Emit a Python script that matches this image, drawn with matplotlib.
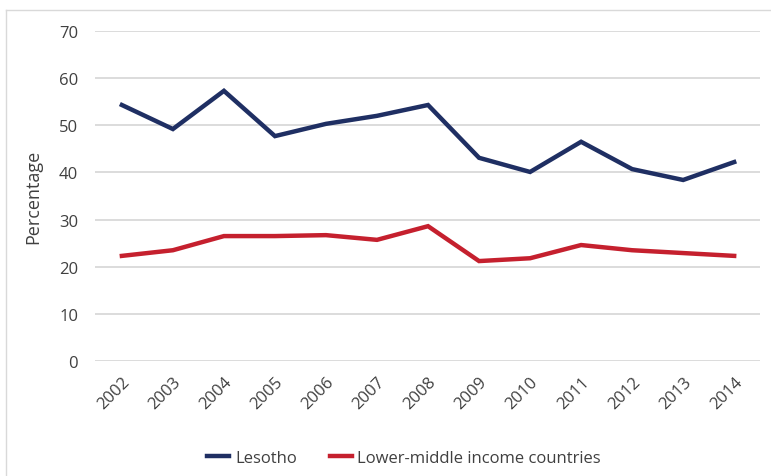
import matplotlib.pyplot as plt
from matplotlib.lines import Line2D

# data
years = list(range(2002, 2015))
lesotho = [54.3, 49.2, 57.3, 47.7, 50.3, 52.0, 54.3, 43.1, 40.1, 46.5, 40.7, 38.4, 42.2]
lower_middle = [22.3, 23.5, 26.5, 26.5, 26.7, 25.7, 28.6, 21.2, 21.8, 24.6, 23.5, 22.9, 22.3]
yticks = [0, 10, 20, 30, 40, 50, 60, 70]

navy = "#1f2f63"
red = "#c5202e"
txt = "#404040"

plt.rcParams['font.family'] = ['Open Sans', 'DejaVu Sans']

fig = plt.figure(figsize=(7.71, 4.77), dpi=100)
ax = fig.add_axes([0.123, 0.241, 0.863, 0.692])

ax.plot(years, lesotho, color=navy, lw=3.2, label="Lesotho", solid_joinstyle="miter")
ax.plot(years, lower_middle, color=red, lw=3.2, label="Lower-middle income countries",
        solid_joinstyle="miter")

ax.set_ylim(0, 70)
ax.set_xlim(2001.47, 2014.51)
ax.set_yticks(yticks)
ax.set_xticks(years)
ax.set_xticklabels([str(y) for y in years], rotation=45, ha="right", rotation_mode="anchor")
ax.grid(axis="y", color="#d9d9d9", lw=1.3)
ax.set_axisbelow(True)
for s in ax.spines.values():
    s.set_visible(False)
ax.tick_params(length=0, colors=txt, labelsize=12)
ax.tick_params(axis="x", pad=9)
ax.tick_params(axis="y", pad=12)
ax.set_ylabel("Percentage", color=txt, fontsize=13, labelpad=12)

ax.legend(loc="upper center", bbox_to_anchor=(0.465, -0.225), ncol=2, frameon=False,
          fontsize=12, labelcolor=txt, handlelength=1.3, handletextpad=0.35,
          columnspacing=2.0)

# thin frame around the chart area
fig.add_artist(Line2D([6/771, 6/771], [0, 1 - 11/477], color="#d9d9d9", lw=1,
                      transform=fig.transFigure))
fig.add_artist(Line2D([6/771, 1], [1 - 11/477, 1 - 11/477], color="#d9d9d9", lw=1,
                      transform=fig.transFigure))

fig.savefig("out.png", dpi=100)
